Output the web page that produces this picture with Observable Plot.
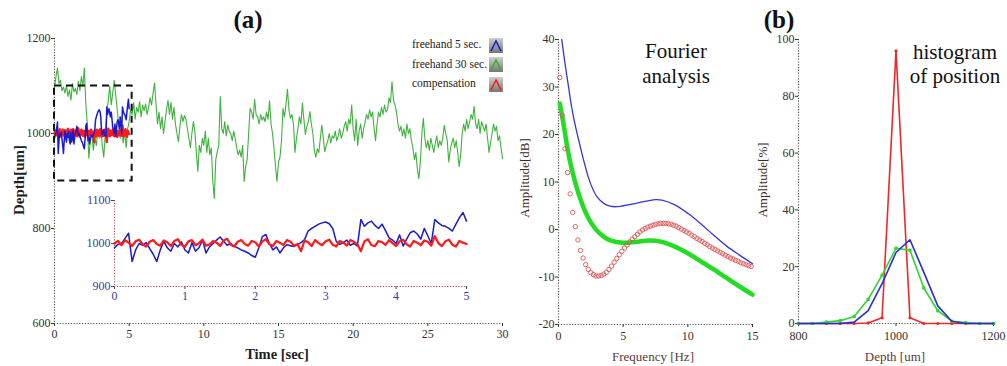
<!DOCTYPE html>
<html><head><meta charset="utf-8">
<script src="https://cdn.jsdelivr.net/npm/d3@7"></script>
<script src="https://cdn.jsdelivr.net/npm/@observablehq/plot@0.6"></script>
<style>
body{margin:0;background:#fff;}
#fig{position:relative;width:1007px;height:366px;overflow:hidden;font-family:"Liberation Serif","Times New Roman",serif;background:#fff;}
.lbl{position:absolute;white-space:nowrap;line-height:1;font-family:"Liberation Serif","Times New Roman",serif;}
.rot{transform:translate(-50%,-50%) rotate(-90deg);}
.ctr{transform:translate(-50%,-50%);}
</style></head><body><div id="fig"></div>
<script>
// ---------- data ----------
const seriesNames = ["freehand 5 sec.", "freehand 30 sec.", "compensation"];
const timeTicks = [0, 5, 10, 15, 20, 25, 30];
const depthTicks = [600, 800, 1000, 1200];
const insetTimeTicks = [0, 1, 2, 3, 4, 5];
const insetDepthTicks = [900, 1000, 1100];
const zoomBoxTime = [0, 5.2];
const zoomBoxDepth = [900, 1100];
const step30 = 0.1; // sec between samples of the 30 s record
const step5 = 0.05; // sec between samples of the 5 s records
const freehand30 = [
1095,1120,1138,1105,1112,1090,1098,1085,1100,1078,
1092,1070,1105,1088,1095,1082,1110,1090,1120,1100,
1138,1060,1020,948,985,1000,965,990,975,1005,
990,1010,975,950,1000,1040,1070,1100,1060,1085,
1112,1080,1050,1020,990,1015,980,1005,970,1010,
1025,1050,1040,1065,1030,1055,1045,1067,1035,1060,
1048,1062,1040,1055,1075,1060,1085,1106,1060,1020,
1045,1010,1035,1000,1025,1050,1070,1040,1065,1030,
1055,1020,1000,983,1015,1040,1025,1038,1030,1010,
990,970,1000,1025,1005,960,920,975,960,990,
975,1005,960,990,955,970,900,863,945,962,
975,1078,1010,1000,1025,995,1018,1005,1000,985,
1005,990,970,955,965,950,975,899,930,945,
1000,1053,1045,1030,1072,1040,1035,1020,1040,1028,
1035,1025,1045,1030,1069,1020,1000,968,930,899,
940,950,985,1053,1035,1060,1093,1050,1032,1040,
1020,960,990,1010,1035,1020,1064,1030,998,1015,
1025,1046,1020,1000,965,950,968,960,990,1018,
990,962,975,985,1000,980,995,990,1005,985,
995,1010,990,1000,1015,1025,1005,1030,1020,1060,
1010,985,1030,975,1005,1020,990,1010,1025,1040,
1030,1050,1035,1045,1010,985,1020,1045,1035,1055,
1040,1060,1045,1050,1075,1065,1109,1070,1060,1046,
1020,1005,1015,995,1010,990,1020,1000,1010,985,
970,945,960,925,905,940,1000,1032,990,970,
985,965,990,975,960,980,995,970,985,975,
990,1017,1000,985,940,965,980,990,970,985,
960,930,955,1000,1020,1005,1030,1010,1025,1040,
1030,1057,1020,1010,1030,1000,1025,1015,1005,1020,
990,960,980,1000,1020,1005,1015,985,995,970,
947];
const freehand5 = [
990,998,1000,1012,1024,958,985,1000,996,1002,
988,975,958,985,1005,990,982,1000,992,1004,
985,978,1002,982,990,1008,978,992,1000,1008,
1015,1005,996,1000,994,990,985,982,978,972,
968,990,1016,1021,1000,985,992,978,990,997,
995,993,998,1002,1009,1029,1035,1040,1045,1048,
1050,1046,1035,1005,998,1002,1008,996,1000,994,
1056,1040,1048,1052,1042,1035,1045,1030,1013,1008,
1000,1020,994,1010,1025,1029,1022,1010,1035,1018,
1000,1056,1048,1042,1040,1035,1029,1045,1060,1072,
1052];
const compensation5 = [
1000,1006,996,1008,1002,994,1005,1009,998,993,
1004,1008,999,995,1007,1003,994,1006,1010,997,
992,1005,1008,996,1001,1009,995,998,1006,1002,
994,1007,1011,997,993,1004,1008,999,995,1006,
1003,993,1005,1010,998,994,1006,1002,996,1008,
1004,995,999,982,1007,1003,994,1008,1001,996,
1005,1009,997,993,1006,1002,995,1008,1004,998,
982,1005,1010,996,994,1006,1003,997,1008,1001,
994,1005,1009,998,993,1006,1002,996,1007,1004,
995,1017,1001,994,1005,1009,997,993,1006,1002,
999];

// Fourier analysis
const freqTicks = [0, 5, 10, 15];
const dbTicks = [-20, -10, 0, 10, 20, 30, 40];
const fftFreeFreq = [0.25,0.5,0.75,1,1.25,1.5,2,2.5,3,3.5,4,4.5,5,6,7,7.5,8,9,10,11,12,13,14,15];
const fftFree5 = [40,35,30.5,26,22.5,19.5,14,9.5,6.8,5.5,4.9,4.8,5,5.5,6.1,6.3,6.2,5.2,3.4,1.2,-1.2,-3.5,-5.4,-7.2];
const fftFree30Freq = [0.1,0.4,0.7,1,1.5,2,2.5,3,3.5,4,5,6,7,8,9,10,11,12,13,14,15];
const fftFree30 = [26.5,22,17,13,8,4.2,1.5,-0.3,-1.5,-2.3,-2.8,-2.6,-2.3,-2.6,-3.6,-5,-6.7,-8.4,-10.2,-12,-13.7];
const fftCompStart = 0.1, fftCompStep = 0.2;
const fftComp = [
32,24,17,12,7.5,3.6,0.6,-2.2,-4.4,-6.0,
-7.4,-8.4,-9.1,-9.5,-9.8,-9.8,-9.7,-9.4,-9.0,-8.4,
-7.7,-6.9,-6.1,-5.3,-4.6,-3.9,-3.3,-2.6,-2.0,-1.5,
-1.0,-0.5,-0.1,0.2,0.5,0.7,0.9,1.1,1.2,1.3,
1.3,1.3,1.2,1.1,0.9,0.7,0.4,0.1,-0.2,-0.5,
-0.8,-1.2,-1.5,-1.9,-2.2,-2.5,-2.9,-3.2,-3.6,-3.9,
-4.2,-4.5,-4.8,-5.1,-5.4,-5.7,-6.0,-6.2,-6.5,-6.7,
-7.0,-7.2,-7.4,-7.6,-7.8];

// Histogram of position
const histDepth = [800,828.6,857.1,885.7,914.3,942.9,971.4,1000,1028.6,1057.1,1085.7,1114.3,1142.9,1171.4,1200];
const histFree5 = [0,0,0,0,0.5,4.5,14,25,29.5,18,6.2,0.8,0,0,0];
const histFree30 = [0,0,0.5,1,2.5,8.5,17,26.5,25.8,12.5,4.5,0.8,0.3,0,0];
const histComp = [0,0,0,0,0,0.2,2,96,2,0,0,0,0,0,0];
const histXTicks = [800, 1000, 1200];
const histYTicks = [0, 20, 40, 60, 80, 100];

// ---------- styles ----------
const C_GREEN_A = "#3db33d", C_BLUE_A = "#1a1ad0", C_RED_A = "#ff1a1a";
const seriesColors = [C_BLUE_A, "#2fb52f", C_RED_A];
const FONT = "'Liberation Serif','Times New Roman',serif";
const fig = document.getElementById("fig");

function place(el, left, top) {
  el.style.position = "absolute"; el.style.left = left + "px"; el.style.top = top + "px";
  el.style.background = "transparent";
  fig.appendChild(el);
}
function label(text, x, y, css, cls) {
  const d = document.createElement("div");
  d.className = "lbl " + (cls || "ctr");
  d.textContent = text;
  d.style.left = x + "px"; d.style.top = y + "px";
  Object.assign(d.style, css || {});
  fig.appendChild(d);
  return d;
}
const num = d => String(d);
const dotted = {stroke: "#555", strokeWidth: 1.2, strokeDasharray: "1.2,1.6"};

// ---------- panel (a) main ----------
const g30 = freehand30.map((v, i) => ({t: i * step30, v}));
const b5 = freehand5.map((v, i) => ({t: i * step5, v}));
const r5 = compensation5.map((v, i) => ({t: i * step5, v}));

const mainPlot = Plot.plot({
  width: 520, height: 366,
  marginLeft: 54, marginRight: 18, marginTop: 38, marginBottom: 43,
  style: {fontFamily: FONT, fontSize: "12px", color: "#333", background: "transparent"},
  x: {domain: [0, 30], ticks: timeTicks, tickSize: 3, tickPadding: 3, tickFormat: num, label: null},
  y: {domain: [600, 1200], ticks: depthTicks, tickSize: 3, tickPadding: 1, tickFormat: num, label: null},
  marks: [
    Plot.ruleY([600], dotted),
    Plot.ruleX([0], dotted),
    Plot.lineY(g30, {x: "t", y: "v", stroke: C_GREEN_A, strokeWidth: 1.1}),
    Plot.lineY(r5, {x: "t", y: "v", stroke: C_RED_A, strokeWidth: 2.4}),
    Plot.lineY(b5, {x: "t", y: "v", stroke: C_BLUE_A, strokeWidth: 1.5}),
    Plot.rect([{}], {x1: () => zoomBoxTime[0], x2: () => zoomBoxTime[1], y1: () => zoomBoxDepth[0], y2: () => zoomBoxDepth[1],
      fill: "none", stroke: "#111", strokeWidth: 2, strokeDasharray: "7,5"})
  ]
});
place(mainPlot, 0, 0);

// ---------- panel (a) inset ----------
const insetPlot = Plot.plot({
  width: 420, height: 130,
  marginLeft: 54, marginRight: 14, marginTop: 20, marginBottom: 24,
  style: {fontFamily: FONT, fontSize: "12px", color: "#3a3a9a", background: "transparent"},
  x: {domain: [0, 5], ticks: insetTimeTicks, tickSize: 3, tickPadding: 2, tickFormat: num, label: null},
  y: {domain: [900, 1100], ticks: insetDepthTicks, tickSize: 3, tickPadding: 1, tickFormat: num, label: null},
  marks: [
    Plot.ruleY([900], {stroke: "#b04848", strokeWidth: 1.2, strokeDasharray: "1.2,1.6"}),
    Plot.ruleX([0], {stroke: "#a05050", strokeWidth: 1.2, strokeDasharray: "1.2,1.6"}),
    Plot.lineY(b5, {x: "t", y: "v", stroke: C_BLUE_A, strokeWidth: 1.5}),
    Plot.lineY(r5, {x: "t", y: "v", stroke: C_RED_A, strokeWidth: 2.2})
  ]
});
place(insetPlot, 60, 180);

// legend of panel (a)
seriesNames.forEach((name, i) => {
  const y = 45 + i * 19.5;
  label(name, 412, y, {fontSize: "11.5px", color: "#222", transform: "translate(0,-50%)"}, " ");
  const svg = d3.create("svg").attr("width", 14).attr("height", 15);
  const grad = svg.append("defs").append("linearGradient").attr("id", "lg" + i)
    .attr("x1", 0).attr("y1", 0).attr("x2", 0).attr("y2", 1);
  grad.append("stop").attr("offset", "0%").attr("stop-color", "#cfcfcf");
  grad.append("stop").attr("offset", "100%").attr("stop-color", "#777");
  svg.append("rect").attr("width", 14).attr("height", 15).attr("fill", `url(#lg${i})`);
  svg.append("polyline").attr("points", "2,13 7,3 12,13").attr("fill", "none")
    .attr("stroke", seriesColors[i]).attr("stroke-width", 1.6);
  const n = svg.node();
  place(n, 489, y - 7.5);
});

label("(a)", 248, 19, {fontSize: "25px", fontWeight: "bold", color: "#111"});
label("Depth[um]", 19, 180, {fontSize: "15px", fontWeight: "bold", color: "#222"}, "rot");
label("Time [sec]", 277, 354, {fontSize: "14.5px", fontWeight: "bold", color: "#222"});

// ---------- panel (b) Fourier ----------
const fBlue = fftFreeFreq.map((f, i) => ({f, a: fftFree5[i]}));
const fGreen = fftFree30Freq.map((f, i) => ({f, a: fftFree30[i]}));
const fRed = fftComp.map((a, i) => ({f: fftCompStart + i * fftCompStep, a}));
const fourierPlot = Plot.plot({
  width: 250, height: 366,
  marginLeft: 48, marginRight: 8, marginTop: 39, marginBottom: 42,
  style: {fontFamily: FONT, fontSize: "12px", color: "#333", background: "transparent"},
  x: {domain: [0, 15], ticks: freqTicks, tickSize: 3, tickPadding: 4, tickFormat: num, label: null},
  y: {domain: [-20, 40], ticks: dbTicks, tickSize: 3, tickPadding: 1, tickFormat: num, label: null},
  marks: [
    Plot.ruleY([-20], dotted),
    Plot.ruleX([0], dotted),
    Plot.line(fGreen, {x: "f", y: "a", stroke: "#22dd22", strokeWidth: 4.5, curve: "catmull-rom"}),
    Plot.line(fBlue, {x: "f", y: "a", stroke: "#3535e0", strokeWidth: 1.3, curve: "catmull-rom"}),
    Plot.dot(fRed, {x: "f", y: "a", r: 2.2, stroke: "#e05555", strokeWidth: 0.9, fill: "none"})
  ]
});
place(fourierPlot, 510, 0);
label("Amplitude[dB]", 524, 178, {fontSize: "13px", color: "#3a2a2a"}, "rot");
label("Frequency [Hz]", 653, 356, {fontSize: "13px", color: "#5a3a3a"});
label("Fourier", 676, 51, {fontSize: "21px", color: "#111"});
label("analysis", 676, 76, {fontSize: "21px", color: "#111"});
label("(b)", 779, 19, {fontSize: "25px", fontWeight: "bold", color: "#111"});

// ---------- panel (b) histogram ----------
const hRed = histDepth.map((d, i) => ({d, p: histComp[i]}));
const hGreen = histDepth.map((d, i) => ({d, p: histFree30[i]}));
const hBlue = histDepth.map((d, i) => ({d, p: histFree5[i]}));
const histPlot = Plot.plot({
  width: 252, height: 366,
  marginLeft: 43, marginRight: 14, marginTop: 39, marginBottom: 43,
  style: {fontFamily: FONT, fontSize: "12px", color: "#333", background: "transparent"},
  x: {domain: [800, 1200], ticks: histXTicks, tickSize: 3, tickPadding: 5, tickFormat: num, label: null},
  y: {domain: [0, 100], ticks: histYTicks, tickSize: 3, tickPadding: 1, tickFormat: num, label: null},
  marks: [
    Plot.ruleY([0], dotted),
    Plot.ruleX([800], dotted),
    Plot.line(hRed, {x: "d", y: "p", stroke: "#ee2828", strokeWidth: 1.6}),
    Plot.dot(hRed, {x: "d", y: "p", r: 1.6, fill: "#ee2828"}),
    Plot.line(hGreen, {x: "d", y: "p", stroke: "#2ed62e", strokeWidth: 1.6}),
    Plot.dot(hGreen, {x: "d", y: "p", r: 1.8, symbol: "square", fill: "#2ed62e"}),
    Plot.line(hBlue, {x: "d", y: "p", stroke: "#2a2ad8", strokeWidth: 1.6})
  ]
});
place(histPlot, 755, 0);
label("Amplitude[%]", 762, 180, {fontSize: "13px", color: "#3a2a2a"}, "rot");
label("Depth [um]", 895, 356, {fontSize: "13px", color: "#5a3a3a"});
label("histogram", 955, 52, {fontSize: "21px", color: "#111"});
label("of position", 955, 76, {fontSize: "21px", color: "#111"});
</script></body></html>
